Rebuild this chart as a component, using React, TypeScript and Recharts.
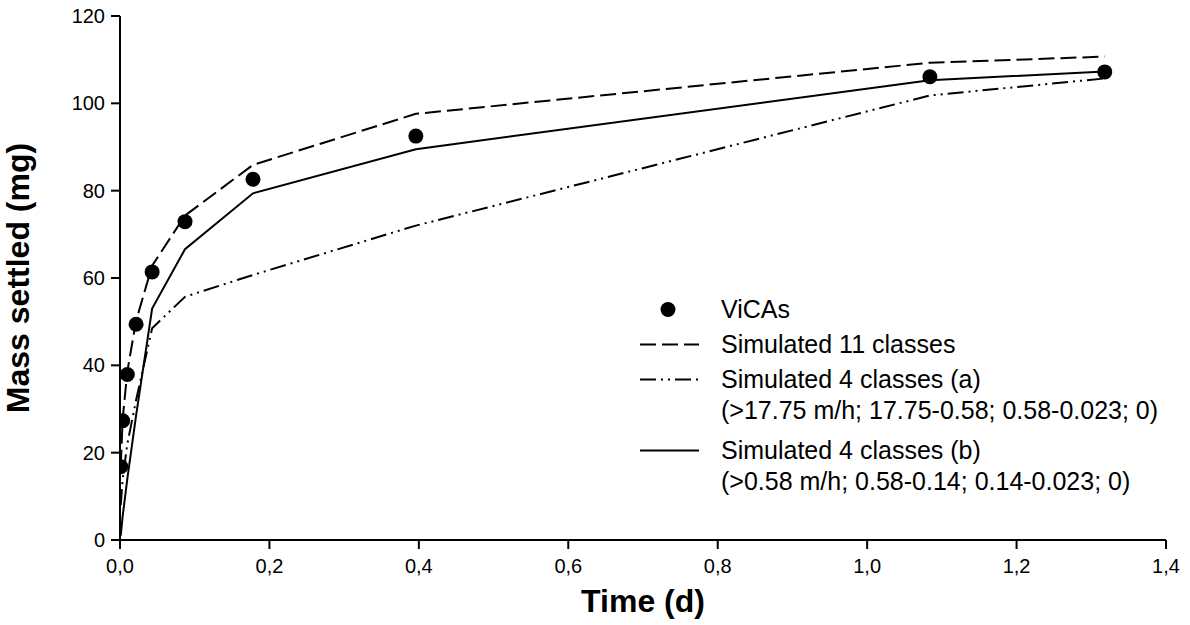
import { ComposedChart, Line, Scatter, XAxis, YAxis } from 'recharts';

// time points (d)
const times = [0.001, 0.0036, 0.0098, 0.0215, 0.043, 0.087, 0.178, 0.396, 1.084, 1.318];
// measured ViCAs mass settled (mg)
const vicas = [16.8, 27.3, 37.9, 49.4, 61.4, 72.9, 82.6, 92.5, 106.1, 107.2];
// simulations
const sim11 = [17, 27.8, 38.6, 50.2, 62.8, 74.3, 85.9, 97.6, 109.3, 110.7];
const sim4a = [8, 14, 22, 32, 48.5, 55.7, 60.7, 72, 101.8, 105.7];
const sim4b = [1, 5.5, 14, 28.5, 53, 66.6, 79.4, 89.5, 105.3, 107.3];

const xTicks = [0, 0.2, 0.4, 0.6, 0.8, 1.0, 1.2, 1.4];
const yTicks = [0, 20, 40, 60, 80, 100, 120];

const toRows = (vals: number[]) => times.map((t, i) => ({ t, v: vals[i] }));

const FONT = '"Liberation Sans", Arial, sans-serif';

const legendRows = [
  { kind: 'dot', lines: ['ViCAs'] },
  { kind: 'dash', lines: ['Simulated 11 classes'] },
  { kind: 'dashdot', lines: ['Simulated 4 classes (a)', '(>17.75 m/h; 17.75-0.58; 0.58-0.023; 0)'] },
  { kind: 'solid', lines: ['Simulated 4 classes (b)', '(>0.58 m/h; 0.58-0.14; 0.14-0.023; 0)'] },
];

const dashFor: Record<string, string | undefined> = {
  dash: '16 6',
  dashdot: '16 5 2 5 2 5',
  solid: undefined,
};

function ChartLegend() {
  return (
    <div style={{ fontFamily: FONT, fontSize: 25, color: '#000', lineHeight: '31px' }}>
      {legendRows.map((r, i) => (
        <div key={i} style={{ display: 'flex', alignItems: 'flex-start', marginBottom: i === 2 ? 9 : 4 }}>
          <svg width={81} height={31} style={{ flex: 'none' }}>
            {r.kind === 'dot' ? (
              <circle cx={28} cy={15.5} r={7.5} fill="#000" />
            ) : (
              <line x1={0} y1={15.5} x2={59} y2={15.5} stroke="#000" strokeWidth={2} strokeDasharray={dashFor[r.kind]} />
            )}
          </svg>
          <div>
            {r.lines.map((l, j) => (
              <div key={j}>{l}</div>
            ))}
          </div>
        </div>
      ))}
    </div>
  );
}

export default function App() {
  const tickStyle = { fontFamily: FONT, fontSize: 20, fill: '#000' };
  const titleStyle = { fontFamily: FONT, fontSize: 32, fontWeight: 'bold', fill: '#000', textAnchor: 'middle' };
  return (
    <div style={{ position: 'absolute', left: 0, top: 0, width: 1190, height: 625, background: '#fff' }}>
      <ComposedChart width={1190} height={625} margin={{ top: 16, right: 24, bottom: 0, left: 60 }}>
        <XAxis
          type="number"
          dataKey="t"
          domain={[0, 1.4]}
          ticks={xTicks}
          tickFormatter={(v: number) => v.toFixed(1).replace('.', ',')}
          tick={tickStyle}
          tickSize={9}
          tickMargin={10}
          stroke="#000"
          strokeWidth={2}
          height={85}
          allowDataOverflow
          label={{ value: 'Time (d)', position: 'insideBottom', offset: 13, style: titleStyle }}
        />
        <YAxis
          type="number"
          dataKey="v"
          domain={[0, 120]}
          ticks={yTicks}
          tick={tickStyle}
          tickSize={9}
          tickMargin={6}
          stroke="#000"
          strokeWidth={2}
          width={60}
          label={{ value: 'Mass settled (mg)', angle: -90, position: 'insideLeft', offset: -42, style: titleStyle }}
        />
        <Line data={toRows(sim11)} dataKey="v" stroke="#000" strokeWidth={2} strokeDasharray="16 6" dot={false} isAnimationActive={false} />
        <Line data={toRows(sim4a)} dataKey="v" stroke="#000" strokeWidth={2} strokeDasharray="16 5 2 5 2 5" dot={false} isAnimationActive={false} />
        <Line data={toRows(sim4b)} dataKey="v" stroke="#000" strokeWidth={2} dot={false} isAnimationActive={false} />
        <Scatter
          data={toRows(vicas)}
          dataKey="v"
          fill="#000"
          isAnimationActive={false}
          shape={(p: any) => <circle cx={p.cx} cy={p.cy} r={7.5} fill="#000" />}
        />
      </ComposedChart>
      <div style={{ position: 'absolute', left: 640, top: 294 }}>
        <ChartLegend />
      </div>
    </div>
  );
}
